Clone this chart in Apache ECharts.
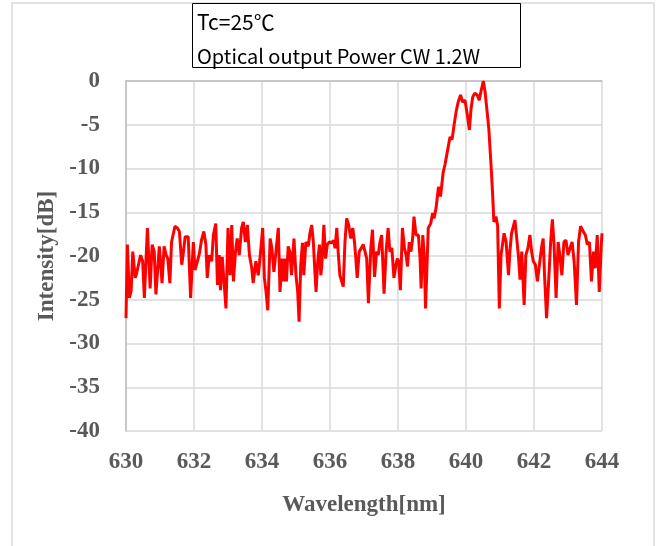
<!DOCTYPE html>
<html>
<head>
<meta charset="utf-8">
<script src="https://cdn.jsdelivr.net/npm/echarts@6/dist/echarts.min.js"></script>
<style>html,body{margin:0;padding:0;background:#fff;}#c{width:666px;height:546px;}</style>
</head>
<body>
<div id="c"></div>
<script>
const xTicks = [630, 632, 634, 636, 638, 640, 642, 644];
const yTicks = [0, -5, -10, -15, -20, -25, -30, -35, -40];
const annotationLines = ['Tc=25℃', 'Optical output Power CW 1.2W'];
const wavelength = [
630.00,630.04,630.10,630.15,630.20,630.27,630.31,630.36,630.43,630.49,630.54,630.63,630.71,630.77,630.83,630.88,630.98,
631.06,631.12,631.18,631.23,631.29,631.34,631.39,631.44,631.51,631.57,631.64,631.69,631.74,631.83,631.90,631.98,
632.03,632.10,632.16,632.22,632.29,632.35,632.39,632.45,632.52,632.57,632.64,632.69,632.74,632.78,632.83,632.88,632.94,
633.00,633.06,633.11,633.16,633.22,633.27,633.33,633.40,633.45,633.51,633.57,633.63,633.70,633.74,633.82,633.89,633.96,
634.02,634.07,634.12,634.17,634.24,634.29,634.35,634.41,634.48,634.53,634.59,634.63,634.68,634.72,634.77,634.82,634.87,634.94,
635.00,635.05,635.09,635.14,635.19,635.23,635.29,635.36,635.41,635.46,635.51,635.55,635.59,635.64,635.69,635.73,635.76,635.82,635.87,635.92,635.98,
636.05,636.10,636.15,636.20,636.24,636.29,636.34,636.39,636.44,636.49,636.55,636.61,636.67,636.72,636.76,636.80,636.86,636.92,636.98,
637.03,637.08,637.13,637.20,637.25,637.31,637.37,637.42,637.47,637.52,637.59,637.65,637.71,637.76,637.82,637.88,637.94,637.98,
638.02,638.07,638.13,638.19,638.24,638.28,638.33,638.38,638.43,638.47,638.53,638.60,638.65,638.68,638.73,638.77,638.81,638.89,638.96,
639.02,639.06,639.12,639.19,639.25,639.33,639.38,639.45,639.53,639.59,639.65,639.71,639.77,639.84,639.90,639.97,
640.04,640.10,640.15,640.20,640.26,640.33,640.39,640.44,640.51,640.56,640.61,640.67,640.73,640.78,640.82,640.88,640.93,640.98,
641.03,641.12,641.18,641.25,641.29,641.34,641.39,641.44,641.49,641.54,641.59,641.64,641.71,641.76,641.82,641.88,641.93,641.98,
642.04,642.10,642.16,642.22,642.27,642.31,642.37,642.43,642.49,642.54,642.59,642.65,642.71,642.76,642.82,642.88,642.94,
643.00,643.06,643.12,643.18,643.25,643.31,643.37,643.45,643.51,643.57,643.63,643.69,643.75,643.80,643.86,643.92,643.98,644.00
];
const intensity = [
-27.1,-18.7,-24.8,-24.0,-19.5,-22.5,-22.0,-21.8,-19.9,-20.6,-24.8,-16.8,-23.7,-18.7,-19.5,-24.4,-18.9,
-23.1,-18.9,-19.9,-20.3,-23.1,-18.4,-18.2,-16.6,-16.8,-17.2,-21.0,-19.5,-17.8,-17.8,-24.8,-18.4,
-21.6,-20.6,-19.7,-18.2,-17.2,-18.7,-22.5,-19.9,-20.6,-17.6,-16.3,-23.3,-19.9,-23.9,-20.1,-19.9,-26.0,
-16.8,-22.2,-16.45,-22.9,-19.5,-18.0,-19.9,-16.8,-16.1,-18.4,-16.45,-19.9,-21.4,-23.1,-20.6,-22.2,-19.5,
-16.8,-22.5,-24.1,-26.2,-18.0,-19.1,-21.8,-19.5,-16.8,-24.1,-20.3,-22.9,-20.3,-22.9,-18.9,-19.5,-22.2,-18.0,
-22.2,-24.1,-27.5,-21.0,-18.5,-22.2,-18.4,-18.9,-17.4,-16.45,-18.4,-21.4,-24.1,-20.6,-18.7,-22.2,-21.0,-16.45,-20.3,-18.7,-18.4,
-18.5,-18.2,-19.1,-16.8,-19.5,-22.2,-22.2,-23.5,-18.4,-15.7,-16.45,-18.0,-16.8,-18.4,-20.3,-22.5,-19.5,-19.1,-18.7,
-18.7,-20.3,-25.4,-19.1,-17.0,-22.4,-19.5,-19.9,-18.4,-17.6,-24.3,-19.5,-16.8,-19.5,-19.1,-22.5,-21.0,-20.3,
-20.6,-23.9,-16.8,-19.1,-19.9,-21.2,-18.4,-19.5,-18.0,-15.5,-17.6,-17.6,-20.3,-23.7,-17.6,-19.9,-26.0,-16.8,-16.3,
-15.1,-15.7,-14.5,-12.1,-13.2,-10.4,-9.6,-8.1,-6.4,-6.7,-5.0,-3.5,-2.4,-1.6,-2.4,-2.2,
-3.9,-5.6,-3.1,-1.8,-1.4,-1.6,-2.2,-1.2,0.0,-1.2,-3.1,-5.4,-9.2,-12.7,-16.1,-15.5,-16.5,-26.0,
-19.9,-17.4,-18.4,-22.2,-19.5,-17.4,-17.6,-15.9,-16.1,-19.9,-22.7,-19.5,-25.6,-19.9,-19.1,-17.6,-19.5,-20.6,
-21.0,-22.9,-21.0,-19.1,-18.0,-22.2,-27.1,-22.9,-18.4,-15.8,-18.7,-24.8,-18.4,-19.9,-22.2,-18.4,-18.2,
-19.9,-19.1,-18.4,-20.6,-25.6,-18.4,-16.6,-17.2,-17.6,-18.7,-18.4,-22.9,-19.5,-21.4,-17.6,-24.1,-18.7,-17.4
];

const seriesData = wavelength.map((w, i) => [w, intensity[i]]);
const chart = echarts.init(document.getElementById('c'));
const labelFont = {color: '#595959', fontFamily: 'Liberation Serif', fontWeight: 'bold', fontSize: 23};
chart.setOption({
  animation: false,
  backgroundColor: '#ffffff',
  grid: {left: 126, top: 81, width: 476, height: 350, containLabel: false},
  xAxis: {
    type: 'value', min: xTicks[0], max: xTicks[xTicks.length - 1], interval: 2,
    name: 'Wavelength[nm]', nameLocation: 'middle', nameGap: 63,
    nameTextStyle: labelFont,
    axisLine: {show: true, lineStyle: {color: '#bfbfbf', width: 1.5}},
    axisTick: {show: false},
    axisLabel: Object.assign({margin: 20}, labelFont),
    splitLine: {show: true, lineStyle: {color: '#d9d9d9', width: 1.5}}
  },
  yAxis: {
    type: 'value', min: yTicks[yTicks.length - 1], max: yTicks[0], interval: 5,
    name: 'Intensity[dB]', nameLocation: 'middle', nameGap: 56,
    nameTextStyle: labelFont,
    axisLine: {show: true, lineStyle: {color: '#bfbfbf', width: 1.5}},
    axisTick: {show: false},
    axisLabel: Object.assign({margin: 26}, labelFont),
    splitLine: {show: true, lineStyle: {color: '#d9d9d9', width: 1.5}}
  },
  series: [{
    type: 'line', data: seriesData, showSymbol: false, symbol: 'none',
    lineStyle: {color: '#ff0000', width: 3}, z: 5
  }],
  graphic: [
    {type: 'rect', shape: {x: 12, y: 3, width: 642, height: 570}, style: {fill: 'none', stroke: '#d9d9d9', lineWidth: 1.5}, z: -1},
    {type: 'rect', shape: {x: 192.5, y: 3.5, width: 328, height: 64}, style: {fill: '#ffffff', stroke: '#000000', lineWidth: 1}, z: 10},
    {type: 'text', x: 197, y: 22, style: {text: annotationLines[0], fill: '#000', fontFamily: 'Noto Sans CJK JP', fontSize: 21, verticalAlign: 'middle'}, z: 11},
    {type: 'text', x: 197, y: 56, style: {text: annotationLines[1], fill: '#000', fontFamily: 'Noto Sans CJK JP', fontSize: 20, verticalAlign: 'middle'}, z: 11}
  ]
});
</script>
</body>
</html>
